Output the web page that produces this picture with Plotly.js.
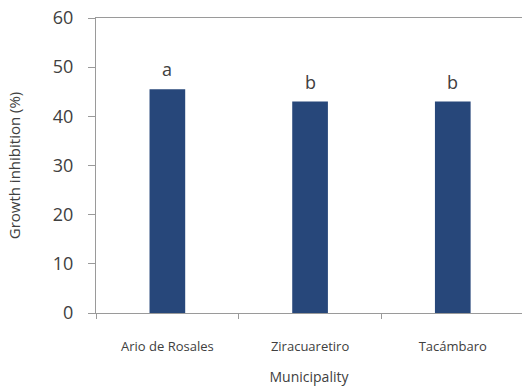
<!DOCTYPE html>
<html>
<head>
<meta charset="utf-8">
<script src="https://cdn.plot.ly/plotly-3.0.1.min.js"></script>
<style>
  html, body { margin: 0; padding: 0; background: #fff; }
  #chart { width: 522px; height: 388px; }
</style>
</head>
<body>
<div id="chart"></div>
<script>
// Mean growth inhibition per municipality, with significance letters
const municipalities = ['Ario de Rosales', 'Ziracuaretiro', 'Tacámbaro'];
const inhibition = [45.5, 43, 43];
const groupLetters = ['a', 'b', 'b'];
const yTicks = [0, 10, 20, 30, 40, 50, 60];

const textColor = '#404040';
const axisColor = '#9a9a9a';
const font = 'Open Sans, sans-serif';

const trace = {
  type: 'bar',
  x: municipalities,
  y: inhibition,
  width: 0.25,
  marker: { color: '#27477a', line: { width: 0 } },
  hoverinfo: 'skip'
};

const annotations = municipalities.map((m, i) => ({
  x: m,
  y: inhibition[i],
  xref: 'x',
  yref: 'y',
  text: groupLetters[i],
  showarrow: false,
  yanchor: 'bottom',
  yshift: 6,
  font: { family: font, size: 18, color: textColor }
}));

const layout = {
  width: 522,
  height: 388,
  margin: { l: 96, r: 0, t: 18, b: 75, pad: 0 },
  paper_bgcolor: '#fff',
  plot_bgcolor: '#fff',
  showlegend: false,
  font: { family: font, color: textColor },
  xaxis: {
    type: 'category',
    range: [-0.5, 2.485],
    showline: true,
    linecolor: axisColor,
    linewidth: 1,
    mirror: true,
    showgrid: false,
    zeroline: false,
    ticks: 'outside',
    tickson: 'boundaries',
    ticklen: 5,
    tickcolor: axisColor,
    ticklabelstandoff: 21,
    tickfont: { family: font, size: 13, color: textColor },
    title: { text: 'Municipality', standoff: 18, font: { family: font, size: 14, color: textColor } },
    fixedrange: true
  },
  yaxis: {
    range: [0, 60],
    tickvals: yTicks,
    ticktext: yTicks.map(String),
    showline: true,
    linecolor: axisColor,
    linewidth: 1,
    showgrid: false,
    zeroline: false,
    ticks: 'outside',
    ticklen: 7,
    tickcolor: axisColor,
    ticklabelstandoff: 11,
    tickfont: { family: font, size: 18, color: textColor },
    title: { text: 'Growth inhibition (%)', standoff: 28, font: { family: font, size: 15, color: textColor } },
    fixedrange: true
  },
  annotations: annotations
};

Plotly.newPlot('chart', [trace], layout, { displayModeBar: false, staticPlot: true });
</script>
</body>
</html>
